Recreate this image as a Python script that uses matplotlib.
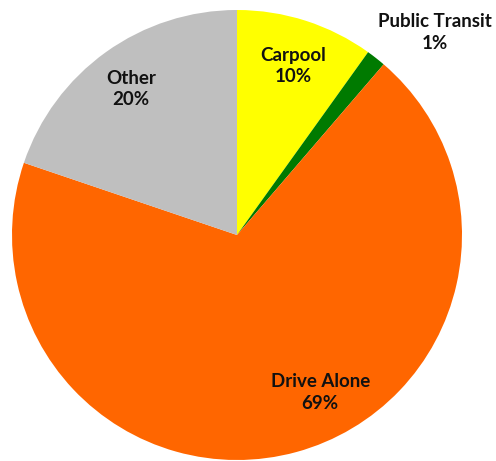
import matplotlib
matplotlib.use("Agg")
import matplotlib.pyplot as plt

# commute mode shares, clockwise from 12 o'clock
modes = ["Carpool", "Public Transit", "Drive Alone", "Other"]
shares = [9.9, 1.4, 68.9, 19.8]
colors = ["#FFFF00", "#007A00", "#FF6600", "#BFBFBF"]

# label anchor points in pie units (radius = 1)
label_xy = [(0.25, 0.75), (0.88, 0.90), (0.37, -0.70), (-0.47, 0.65)]

fig = plt.figure(figsize=(4.96, 4.61), dpi=100)
ax = fig.add_axes([0, 0, 1, 1])

wedges, _ = ax.pie(
    shares,
    colors=colors,
    startangle=90,
    counterclock=False,
    radius=1.0,
    wedgeprops=dict(linewidth=0),
)

for name, val, (x, y) in zip(modes, shares, label_xy):
    ax.text(
        x, y, f"{name}\n{val:.0f}%",
        ha="center", va="center",
        fontsize=13.5, fontweight="bold", family="Lato",
        color="#111111", linespacing=1.3,
    )

ax.set_aspect("auto")
ax.set_xlim(-237 / 225, (496 - 237) / 225)
ax.set_ylim(-(461 - 235) / 225, 235 / 225)
ax.axis("off")

fig.savefig("out.png", dpi=100, facecolor="white")
